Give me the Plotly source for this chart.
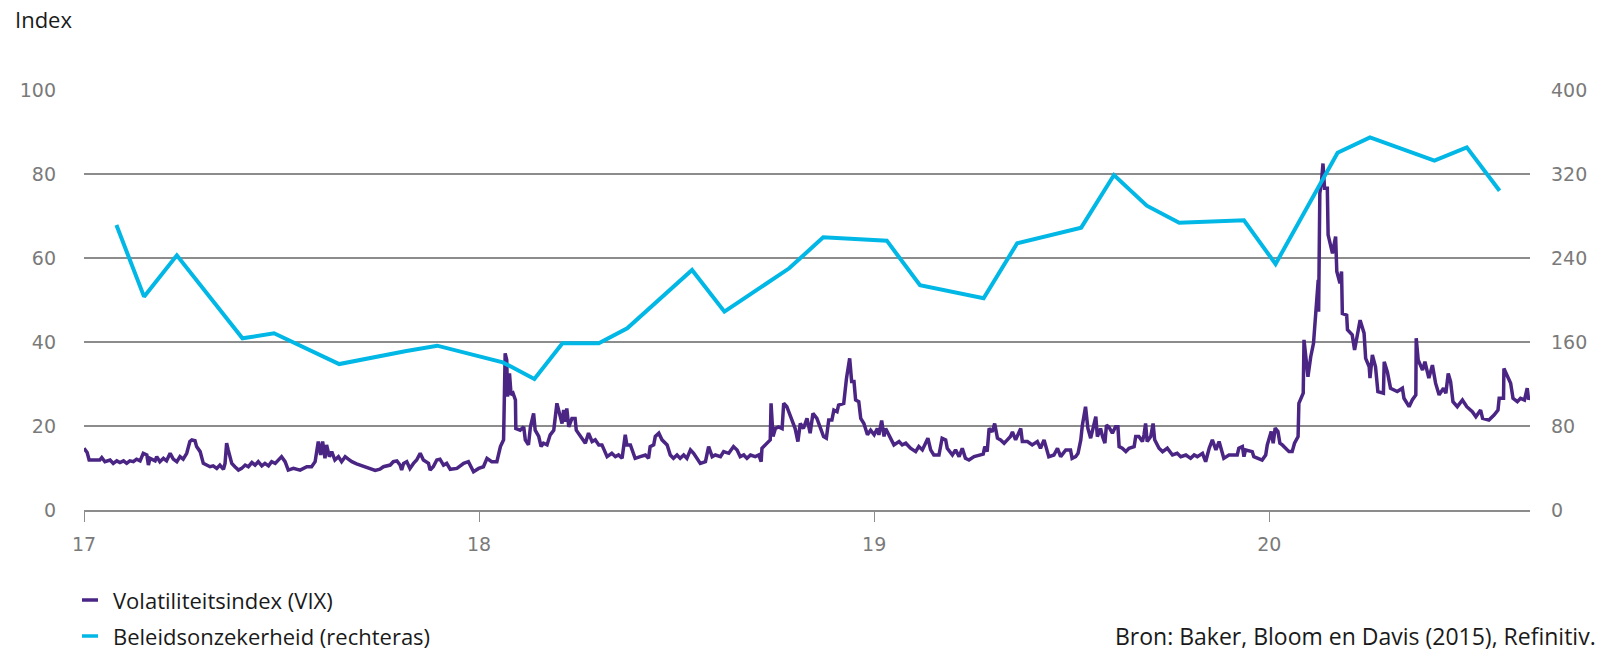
import plotly.graph_objects as go

# Tijd in jaren (17 = 2017); VIX op de linkeras, beleidsonzekerheid op de rechteras
vix_t = [
    17.000, 17.008, 17.013, 17.040, 17.045, 17.053, 17.066, 17.074, 17.083, 17.091,
    17.100, 17.108, 17.116, 17.125, 17.133, 17.142, 17.150, 17.159, 17.163, 17.167,
    17.180, 17.184, 17.192, 17.201, 17.209, 17.218, 17.226, 17.235, 17.243, 17.251,
    17.260, 17.268, 17.273, 17.281, 17.285, 17.294, 17.302, 17.311, 17.319, 17.327,
    17.336, 17.344, 17.353, 17.357, 17.361, 17.365, 17.374, 17.382, 17.391, 17.399,
    17.408, 17.416, 17.425, 17.433, 17.441, 17.450, 17.458, 17.467, 17.475, 17.484,
    17.492, 17.500, 17.509, 17.517, 17.530, 17.547, 17.564, 17.576, 17.585, 17.593,
    17.599, 17.604, 17.610, 17.614, 17.621, 17.627, 17.635, 17.644, 17.652, 17.661,
    17.669, 17.678, 17.690, 17.707, 17.724, 17.737, 17.749, 17.758, 17.775, 17.783,
    17.792, 17.800, 17.804, 17.809, 17.817, 17.825, 17.834, 17.842, 17.851, 17.859,
    17.872, 17.876, 17.884, 17.893, 17.901, 17.910, 17.918, 17.927, 17.944, 17.961,
    17.973, 17.986, 17.999, 18.011, 18.020, 18.032, 18.045, 18.054, 18.062, 18.066,
    18.070, 18.072, 18.077, 18.081, 18.086, 18.092, 18.093, 18.104, 18.113, 18.117,
    18.125, 18.130, 18.138, 18.142, 18.151, 18.157, 18.163, 18.172, 18.180, 18.189,
    18.197, 18.205, 18.210, 18.214, 18.218, 18.222, 18.227, 18.235, 18.243, 18.246,
    18.256, 18.269, 18.277, 18.286, 18.294, 18.303, 18.311, 18.324, 18.336, 18.345,
    18.353, 18.362, 18.370, 18.374, 18.383, 18.395, 18.408, 18.421, 18.429, 18.433,
    18.442, 18.446, 18.455, 18.463, 18.476, 18.484, 18.492, 18.501, 18.509, 18.518,
    18.526, 18.535, 18.543, 18.552, 18.560, 18.573, 18.581, 18.590, 18.598, 18.611,
    18.619, 18.632, 18.644, 18.653, 18.661, 18.670, 18.678, 18.687, 18.699, 18.708,
    18.714, 18.716, 18.729, 18.737, 18.739, 18.744, 18.750, 18.758, 18.767, 18.771,
    18.779, 18.786, 18.792, 18.800, 18.807, 18.813, 18.821, 18.830, 18.838, 18.845,
    18.855, 18.864, 18.872, 18.879, 18.885, 18.893, 18.898, 18.906, 18.910, 18.923,
    18.930, 18.938, 18.943, 18.949, 18.953, 18.961, 18.966, 18.974, 18.983, 18.991,
    19.000, 19.008, 19.012, 19.019, 19.025, 19.029, 19.042, 19.050, 19.063, 19.071,
    19.080, 19.092, 19.105, 19.113, 19.122, 19.136, 19.143, 19.151, 19.164, 19.172,
    19.181, 19.185, 19.198, 19.206, 19.215, 19.223, 19.231, 19.240, 19.253, 19.265,
    19.276, 19.280, 19.286, 19.291, 19.299, 19.305, 19.312, 19.320, 19.329, 19.337,
    19.345, 19.350, 19.358, 19.371, 19.375, 19.388, 19.400, 19.413, 19.421, 19.430,
    19.438, 19.442, 19.455, 19.464, 19.472, 19.485, 19.497, 19.501, 19.510, 19.516,
    19.523, 19.527, 19.535, 19.541, 19.548, 19.554, 19.561, 19.565, 19.573, 19.578,
    19.584, 19.588, 19.594, 19.603, 19.611, 19.617, 19.620, 19.628, 19.637, 19.645,
    19.658, 19.662, 19.670, 19.679, 19.683, 19.687, 19.691, 19.700, 19.706, 19.710,
    19.721, 19.730, 19.742, 19.755, 19.767, 19.776, 19.789, 19.801, 19.810, 19.818,
    19.831, 19.839, 19.848, 19.856, 19.865, 19.873, 19.885, 19.898, 19.919, 19.923,
    19.932, 19.936, 19.940, 19.957, 19.961, 19.982, 19.991, 19.995, 20.005, 20.010,
    20.015, 20.022, 20.027, 20.033, 20.042, 20.050, 20.058, 20.064, 20.073, 20.075,
    20.086, 20.088, 20.098, 20.105, 20.112, 20.118, 20.124, 20.125, 20.126, 20.128,
    20.132, 20.136, 20.140, 20.147, 20.149, 20.160, 20.168, 20.171, 20.179, 20.183,
    20.185, 20.196, 20.198, 20.210, 20.216, 20.223, 20.230, 20.240, 20.244, 20.253,
    20.255, 20.261, 20.269, 20.275, 20.289, 20.291, 20.299, 20.307, 20.324, 20.337,
    20.341, 20.354, 20.362, 20.371, 20.372, 20.377, 20.388, 20.394, 20.400, 20.404,
    20.413, 20.421, 20.430, 20.441, 20.447, 20.453, 20.459, 20.465, 20.476, 20.489,
    20.500, 20.514, 20.523, 20.535, 20.540, 20.556, 20.569, 20.579, 20.582, 20.593,
    20.594, 20.603, 20.611, 20.617, 20.628, 20.636, 20.646, 20.653, 20.656, 20.667,
]
vix = [
    14.7, 13.7, 11.9, 11.9, 12.5, 11.5, 11.9, 11.1, 11.7, 11.3,
    11.7, 11.1, 11.7, 11.5, 12.1, 11.7, 13.5, 13.1, 10.7, 12.3,
    11.7, 12.7, 11.5, 12.3, 11.7, 13.5, 12.1, 11.5, 12.7, 12.1,
    13.5, 16.3, 16.7, 16.5, 15.1, 13.9, 11.1, 10.7, 10.3, 10.5,
    9.9, 10.7, 9.7, 11.1, 15.9, 14.3, 11.1, 10.3, 9.5, 9.9,
    10.7, 10.3, 11.3, 10.7, 11.5, 10.5, 11.1, 10.5, 11.5, 11.1,
    11.9, 12.7, 11.5, 9.5, 9.9, 9.5, 10.3, 10.3, 11.5, 16.3,
    13.1, 16.3, 12.3, 15.5, 12.7, 13.9, 11.9, 12.7, 11.5, 12.7,
    12.1, 11.5, 11.0, 10.5, 9.9, 9.4, 9.7, 10.3, 10.7, 11.5,
    11.7, 10.7, 9.5, 11.1, 11.5, 9.9, 11.1, 11.9, 13.5, 11.9,
    11.1, 9.5, 10.3, 11.9, 12.1, 10.7, 11.1, 9.7, 9.9, 11.1,
    11.5, 9.1, 9.9, 10.3, 12.3, 11.5, 11.5, 15.1, 16.7, 37.3,
    35.7, 27.0, 32.5, 27.4, 27.8, 26.2, 19.4, 19.0, 19.8, 16.7,
    15.5, 19.8, 23.0, 19.0, 17.5, 15.1, 15.9, 15.5, 17.9, 19.0,
    25.4, 22.6, 20.6, 23.8, 21.0, 24.2, 19.8, 21.8, 21.8, 19.0,
    17.5, 15.9, 18.3, 16.3, 16.7, 15.5, 15.5, 12.7, 13.5, 12.7,
    13.1, 12.3, 17.9, 15.5, 15.5, 12.3, 12.7, 13.1, 12.3, 15.1,
    15.5, 17.5, 18.3, 16.7, 15.5, 13.1, 12.3, 13.1, 12.3, 13.1,
    12.3, 14.3, 13.5, 12.3, 11.1, 11.5, 15.1, 12.7, 13.1, 12.7,
    13.9, 13.5, 15.1, 14.3, 12.7, 13.1, 12.3, 13.1, 12.7, 13.1,
    11.5, 14.7, 15.9, 16.7, 25.4, 17.5, 19.4, 19.8, 19.4, 25.4,
    24.6, 23.0, 21.4, 19.4, 16.3, 20.6, 19.4, 21.8, 18.3, 23.0,
    21.8, 19.4, 17.5, 17.1, 21.4, 21.4, 23.8, 23.4, 25.0, 25.4,
    31.4, 36.1, 30.6, 30.6, 26.2, 25.8, 21.8, 20.6, 17.9, 19.0,
    17.9, 19.4, 17.9, 21.3, 17.5, 19.4, 16.7, 15.5, 16.3, 15.5,
    15.9, 14.7, 13.9, 15.1, 14.3, 17.1, 14.3, 13.1, 13.1, 17.1,
    16.7, 14.7, 13.1, 14.3, 12.7, 14.7, 12.3, 11.9, 12.7, 13.1,
    13.3, 15.1, 13.9, 19.4, 18.6, 20.6, 17.1, 16.7, 15.9, 16.7,
    17.5, 18.6, 16.7, 19.4, 16.3, 16.3, 15.5, 16.3, 14.7, 16.7,
    14.3, 12.7, 13.1, 14.7, 12.7, 14.3, 14.3, 12.3, 12.7, 13.5,
    16.7, 20.2, 24.6, 19.4, 17.1, 19.4, 22.2, 17.5, 19.4, 17.5,
    15.9, 20.2, 19.8, 18.3, 19.8, 19.8, 15.1, 14.7, 13.9, 14.7,
    15.1, 17.5, 17.5, 16.3, 17.9, 20.6, 16.3, 17.5, 20.6, 16.7,
    14.7, 13.9, 14.7, 13.1, 13.5, 12.7, 13.1, 12.3, 13.1, 12.7,
    13.5, 11.5, 14.7, 16.7, 14.3, 16.3, 12.3, 13.1, 13.1, 14.7,
    15.1, 12.7, 14.3, 13.9, 12.7, 11.9, 13.1, 15.5, 18.7, 15.9,
    19.5, 18.7, 15.9, 15.5, 14.7, 13.9, 13.9, 15.9, 17.5, 25.4,
    27.8, 40.5, 31.7, 36.5, 39.7, 46.8, 54.8, 47.2, 57.9, 75.4,
    77.8, 82.5, 76.6, 76.6, 65.5, 61.1, 65.1, 56.8, 54.0, 56.8,
    46.8, 46.4, 42.9, 41.7, 38.1, 41.3, 45.2, 42.1, 36.1, 34.1,
    31.4, 36.9, 34.1, 28.2, 27.8, 35.3, 32.9, 29.0, 28.2, 29.0,
    26.6, 24.6, 26.2, 27.4, 40.9, 35.7, 33.3, 35.3, 33.3, 31.4,
    34.5, 30.2, 27.4, 29.0, 27.8, 32.5, 30.6, 25.8, 24.6, 26.2,
    24.6, 23.4, 22.2, 23.8, 21.8, 21.4, 22.6, 23.8, 26.6, 26.6,
    33.7, 31.7, 30.2, 26.6, 25.8, 26.6, 26.2, 29.0, 26.6, 26.4,
]

epu_t = [
    17.082, 17.152, 17.235, 17.401, 17.481, 17.646, 17.816, 17.894,
    18.060, 18.140, 18.211, 18.303, 18.375, 18.539, 18.621, 18.785, 18.871,
    19.032, 19.116, 19.277, 19.362, 19.524, 19.607, 19.690, 19.772, 19.936,
    20.016, 20.173, 20.255, 20.418, 20.500, 20.583,
]
epu = [
    271.4, 203.2, 242.5, 163.5, 168.3, 139.0, 151.5, 156.5,
    140.6, 124.8, 158.7, 158.7, 173.0, 228.6, 188.9, 230.2, 259.7,
    256.5, 214.0, 201.6, 254.0, 268.9, 319.0, 289.8, 273.6, 275.9,
    234.3, 340.3, 354.9, 332.7, 345.4, 304.1,
]

x_ticks = [17, 18, 19, 20]
x_labels = ["17", "18", "19", "20"]
left_ticks = [0, 20, 40, 60, 80, 100]
right_ticks = [0, 80, 160, 240, 320, 400]

VIX_KLEUR = "#4a2584"
EPU_KLEUR = "#00b7e5"
GRID = "#8c8c8c"
TICK_TEKST = "#7a7a7a"
TEKST = "#1a1a1a"
FONT = "Open Sans"
TICK_FONT = dict(family="DejaVu Sans", size=19, color=TICK_TEKST)

W, H = 1604, 653
M_L, M_R, M_T, M_B = 84, 74, 90, 143
PW, PH = W - M_L - M_R, H - M_T - M_B


def paper(px, py):
    """Pixelpositie op de pagina omrekenen naar paper-coördinaten."""
    return (px - M_L) / PW, (H - M_B - py) / PH


fig = go.Figure()
fig.add_trace(go.Scatter(
    x=vix_t, y=vix, mode="lines", name="Volatiliteitsindex (VIX)",
    line=dict(color=VIX_KLEUR, width=3.5), yaxis="y", showlegend=False,
))
fig.add_trace(go.Scatter(
    x=epu_t, y=epu, mode="lines", name="Beleidsonzekerheid (rechteras)",
    line=dict(color=EPU_KLEUR, width=4), yaxis="y2", showlegend=False,
))

shapes = []
annotations = []

# Handmatige legenda onder de grafiek
for naam, kleur, py in [
    ("Volatiliteitsindex (VIX)", VIX_KLEUR, 600),
    ("Beleidsonzekerheid (rechteras)", EPU_KLEUR, 636),
]:
    x0, y0 = paper(82, py)
    x1, _ = paper(98, py)
    shapes.append(dict(type="line", xref="paper", yref="paper",
                       x0=x0, x1=x1, y0=y0, y1=y0,
                       line=dict(color=kleur, width=3.5)))
    tx, ty = paper(111, py)
    annotations.append(dict(text=naam, xref="paper", yref="paper", x=tx, y=ty,
                            xanchor="left", yanchor="middle", showarrow=False,
                            font=dict(family=FONT, size=22, color=TEKST)))

ix, iy = paper(13, 19)
annotations.append(dict(text="Index", xref="paper", yref="paper", x=ix, y=iy,
                        xanchor="left", yanchor="middle", showarrow=False,
                        font=dict(family=FONT, size=22, color=TEKST)))

bx, by = paper(1598, 636)
annotations.append(dict(text="Bron: Baker, Bloom en Davis (2015), Refinitiv.",
                        xref="paper", yref="paper", x=bx, y=by,
                        xanchor="right", yanchor="middle", showarrow=False,
                        font=dict(family=FONT, size=23, color=TEKST)))

fig.update_layout(
    width=W, height=H,
    margin=dict(l=M_L, r=M_R, t=M_T, b=M_B, autoexpand=False),
    paper_bgcolor="white", plot_bgcolor="white",
    font=dict(family=FONT, size=20, color=TICK_TEKST),
    xaxis=dict(
        range=[17, 20.66], tickvals=x_ticks, ticktext=x_labels,
        showgrid=False, zeroline=False, automargin=False,
        showline=True, linecolor=GRID, linewidth=1.5,
        ticks="outside", ticklen=10, tickwidth=1, tickcolor=GRID,
        ticklabelstandoff=6,
        tickfont=TICK_FONT,
    ),
    yaxis=dict(
        range=[0, 100], tickvals=left_ticks, automargin=False,
        showgrid=True, gridcolor=GRID, gridwidth=1.5,
        zeroline=False, showline=False, ticks="",
        ticklabelstandoff=27,
        tickfont=TICK_FONT,
    ),
    yaxis2=dict(
        range=[0, 400], tickvals=right_ticks, automargin=False,
        overlaying="y", side="right",
        showgrid=False, zeroline=False, showline=False, ticks="",
        ticklabelstandoff=20,
        tickfont=TICK_FONT,
    ),
    shapes=shapes,
    annotations=annotations,
)

fig.write_html("out.html")
